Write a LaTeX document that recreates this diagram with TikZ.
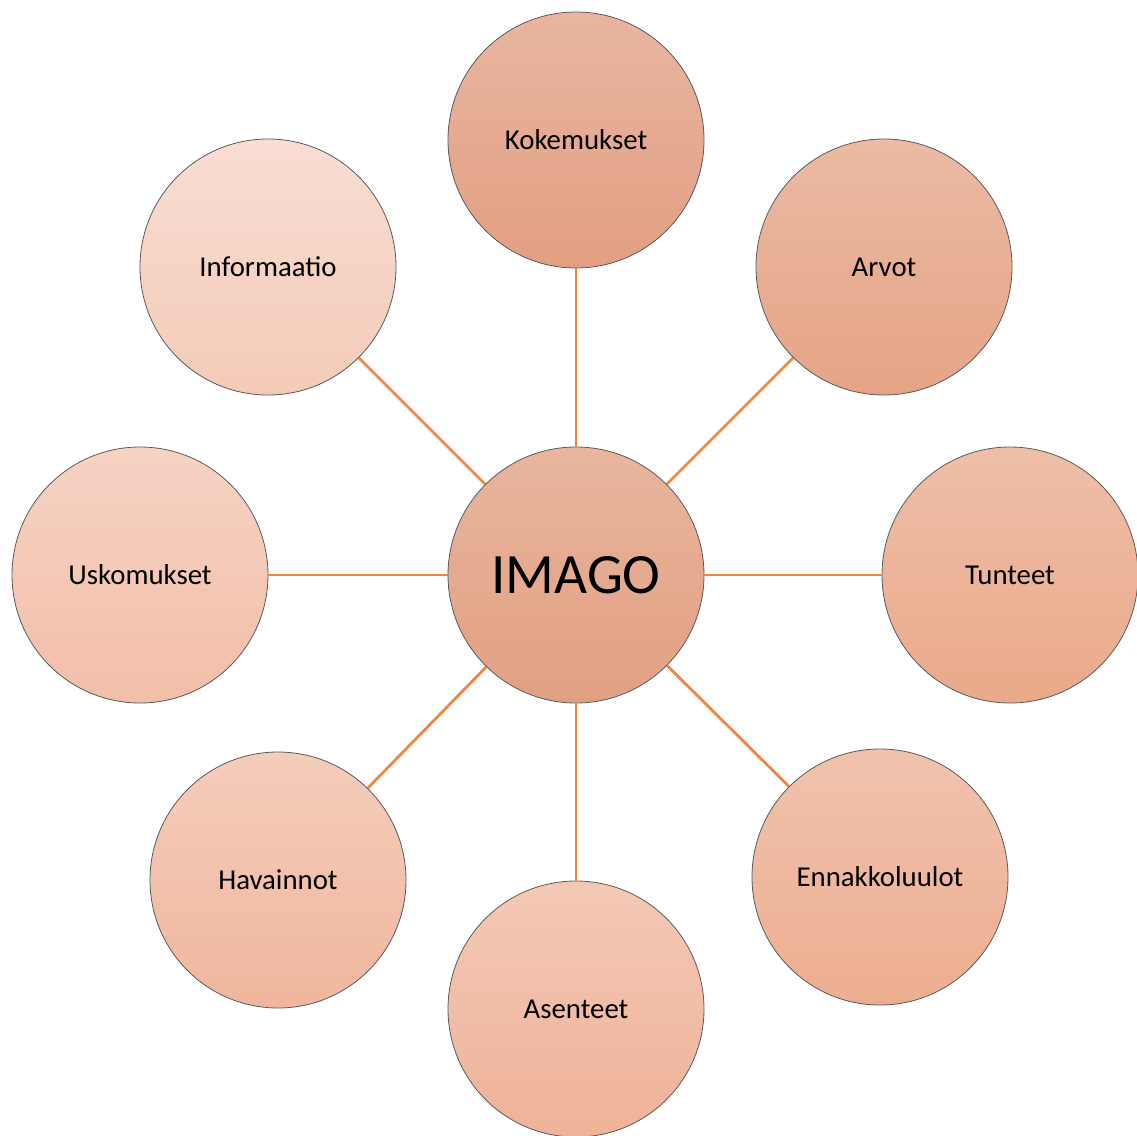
\documentclass[tikz,border=0pt]{standalone}
\usepackage{fontspec}
\setmainfont{Carlito}
\definecolor{linec}{HTML}{F08545}
\definecolor{edgec}{HTML}{5A5A5A}
\definecolor{imT}{HTML}{E8B59E}\definecolor{imB}{HTML}{E2A082}
\definecolor{koT}{HTML}{E8B5A0}\definecolor{koB}{HTML}{E39F82}
\definecolor{arT}{HTML}{EABAA3}\definecolor{arB}{HTML}{E6A486}
\definecolor{tuT}{HTML}{EEBFA8}\definecolor{tuB}{HTML}{EAA98A}
\definecolor{enT}{HTML}{F0C3AE}\definecolor{enB}{HTML}{EDAD90}
\definecolor{asT}{HTML}{F3C9B6}\definecolor{asB}{HTML}{EFB298}
\definecolor{haT}{HTML}{F4CDBB}\definecolor{haB}{HTML}{F0B69D}
\definecolor{usT}{HTML}{F6D3C4}\definecolor{usB}{HTML}{F2BEA8}
\definecolor{inT}{HTML}{F8DDD3}\definecolor{inB}{HTML}{F5CBB8}
\tikzset{
  bub/.style={circle, draw=edgec, line width=0.8pt, minimum size=256pt, inner sep=0pt,
    top color=#1T, bottom color=#1B, font=\fontsize{28.8}{30}\selectfont, text=black},
  link/.style={draw=linec, line width=2.8pt}
}
\begin{document}
\begin{tikzpicture}[x=1pt,y=-1pt]
\useasboundingbox (0,0) rectangle (1137,1135);
\node[bub=im, font=\fontsize{57}{60}\selectfont] (im) at (576,575) {IMAGO};
\node[bub=ko] (ko) at (576,140) {Kokemukset};
\node[bub=ar] (ar) at (884,267) {Arvot};
\node[bub=tu] (tu) at (1010,575) {Tunteet};
\node[bub=en] (en) at (880,877) {Ennakkoluulot};
\node[bub=as] (as) at (576,1009) {Asenteet};
\node[bub=ha] (ha) at (278,880) {Havainnot};
\node[bub=us] (us) at (140,575) {Uskomukset};
\node[bub=in] (in) at (268,267) {Informaatio};
\foreach \n in {ko,ar,tu,en,as,ha,us,in}{
  \draw[link] (im) -- (\n);
}
\end{tikzpicture}
\end{document}
